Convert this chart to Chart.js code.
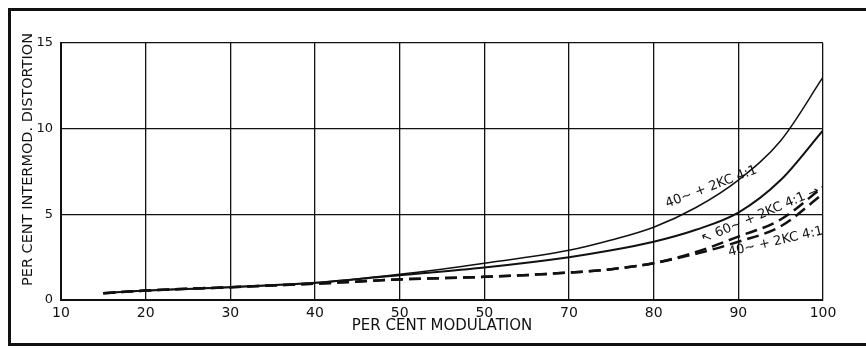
<!DOCTYPE html>
<html>
<head>
<meta charset="utf-8">
<script src="https://cdn.jsdelivr.net/npm/chart.js@4/dist/chart.umd.min.js"></script>
<style>
    body { margin: 0; background: #fff; overflow: hidden; }
    #wrap { position: relative; width: 866px; height: 349px; overflow: hidden; }
    #frame {
        position: absolute; left: 8px; top: 8px; width: 880px; height: 332px;
        border-left: 3px solid #111; border-top: 3px solid #111; border-bottom: 3px solid #111;
        pointer-events: none;
    }
</style>
</head>
<body>
<div id="wrap">
    <canvas id="chart"></canvas>
    <div id="frame"></div>
</div>
<script>
// values
const modulation = [15, 20, 30, 40, 50, 60, 70, 75, 80, 85, 90, 95, 100];
const xTickLabels = ['10', '20', '30', '40', '50', '50', '70', '80', '90', '100'];
const yTicks = [0, 5, 10, 15];

const solid40 = [0.4, 0.55, 0.75, 1.0, 1.5, 2.15, 2.9, 3.5, 4.25, 5.4, 7.0, 9.3, 13.0];
const solid60 = [0.4, 0.55, 0.75, 1.0, 1.45, 1.9, 2.5, 2.9, 3.4, 4.1, 5.1, 7.0, 9.9];
const dashedA = [0.4, 0.55, 0.75, 0.95, 1.2, 1.35, 1.6, 1.8, 2.15, 2.8, 3.7, 4.7, 6.6];
const dashedB = [0.4, 0.55, 0.75, 0.95, 1.2, 1.35, 1.6, 1.8, 2.15, 2.7, 3.4, 4.3, 6.2];

const yTitle = 'PER CENT INTERMOD. DISTORTION';

// curve captions: [x, y, text, angle in degrees]
const captions = [
    [86.8, 6.6, '40~ + 2KC 4:1', -21],
    [92.6, 4.95, '\u2196 60~ + 2KC 4:1 \u2192', -23],
    [94.4, 3.4, '40~ + 2KC 4:1', -13]
];

const toPoints = ys => ys.map((y, i) => ({ x: modulation[i], y: y }));

const captionPlugin = {
    id: 'captions',
    afterDatasetsDraw(chart) {
        const { ctx, scales } = chart;
        ctx.save();
        ctx.fillStyle = '#111';
        ctx.font = '13px "DejaVu Sans", sans-serif';
        ctx.textAlign = 'center';
        ctx.textBaseline = 'middle';
        captions.forEach(([x, y, text, angle]) => {
            ctx.save();
            ctx.translate(scales.x.getPixelForValue(x), scales.y.getPixelForValue(y));
            ctx.rotate(angle * Math.PI / 180);
            ctx.fillText(text, 0, 0);
            ctx.restore();
        });

        // y axis title sits a little above the middle of the axis
        ctx.font = '14.5px "DejaVu Sans", sans-serif';
        ctx.save();
        ctx.translate(28, scales.y.getPixelForValue(8.2));
        ctx.rotate(-Math.PI / 2);
        ctx.fillText(yTitle, 0, 0);
        ctx.restore();
        ctx.restore();
    }
};

const lineStyle = (data, width, dash) => ({
    data: toPoints(data),
    borderColor: '#111',
    borderWidth: width,
    borderDash: dash,
    pointRadius: 0,
    fill: false,
    cubicInterpolationMode: 'monotone'
});

new Chart(document.getElementById('chart'), {
    type: 'line',
    data: {
        datasets: [
            lineStyle(solid40, 1.5, []),
            lineStyle(solid60, 2, []),
            lineStyle(dashedA, 2.5, [12, 6]),
            lineStyle(dashedB, 2.5, [12, 6])
        ]
    },
    options: {
        responsive: true,
        maintainAspectRatio: false,
        animation: false,
        layout: { padding: { left: 0, right: 43, top: 43, bottom: 10 } },
        plugins: { legend: { display: false }, tooltip: { enabled: false } },
        scales: {
            x: {
                type: 'linear',
                min: 10,
                max: 100,
                afterFit: scale => { scale.height = 39; },
                afterBuildTicks: scale => {
                    scale.ticks = xTickLabels.map((t, i) => ({ value: 10 + i * 10 }));
                },
                grid: { color: '#111', lineWidth: 1.3, drawTicks: false },
                border: { color: '#111', width: 2 },
                ticks: {
                    padding: 5,
                    maxRotation: 0,
                    color: '#111',
                    font: { family: 'DejaVu Sans', size: 14 },
                    callback: v => xTickLabels[Math.round((v - 10) / 10)]
                },
                title: {
                    display: true,
                    text: 'PER CENT MODULATION',
                    color: '#111',
                    font: { family: 'DejaVu Sans', size: 15 }
                }
            },
            y: {
                min: 0,
                max: 15,
                afterFit: scale => { scale.width = 61; },
                afterBuildTicks: scale => {
                    scale.ticks = yTicks.map(v => ({ value: v }));
                },
                grid: { color: '#111', lineWidth: 1.3, drawTicks: false },
                border: { color: '#111', width: 2 },
                ticks: {
                    padding: 8,
                    color: '#111',
                    font: { family: 'DejaVu Sans', size: 13 }
                }
            }
        }
    },
    plugins: [captionPlugin]
});
</script>
</body>
</html>
